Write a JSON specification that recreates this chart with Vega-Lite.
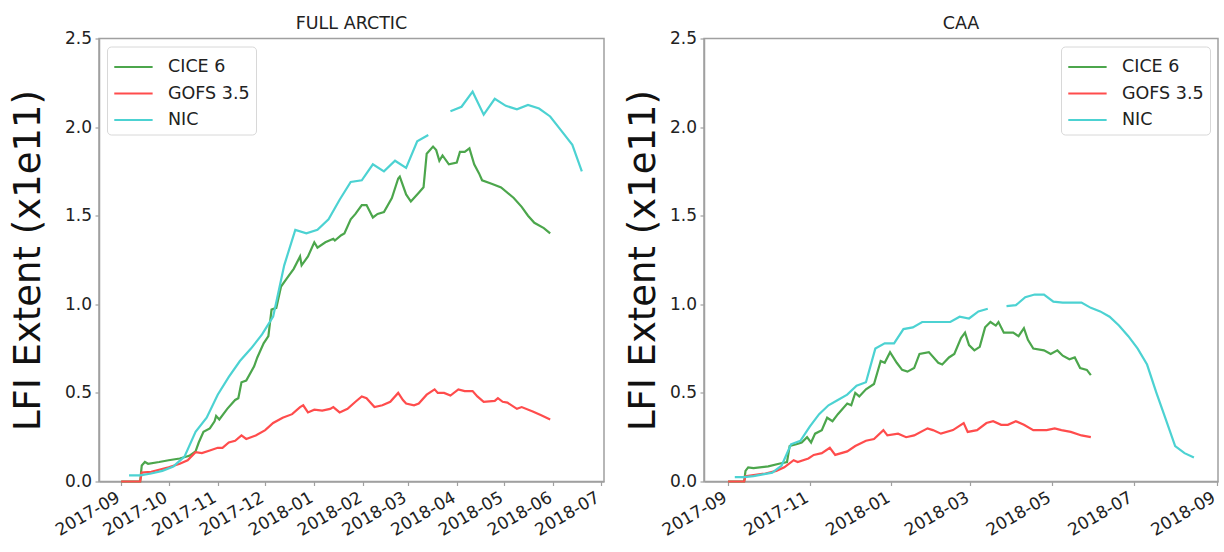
{
"$schema": "https://vega.github.io/schema/vega-lite/v6.json",
"padding": {"left": 9, "top": 13.5, "right": 2, "bottom": 0},
"background": "white",
"config": {
  "font": "DejaVu Sans",
  "view": {"stroke": "#a0a0a0", "strokeWidth": 1.5},
  "axis": {"grid": false, "domainColor": "#a0a0a0", "domainWidth": 1.5, "tickColor": "#a0a0a0", "tickSize": 4, "tickWidth": 1.2, "labelPadding": 3.5, "labelFont": "DejaVu Sans", "labelFontSize": 17, "labelColor": "#222", "labelOverlap": false, "titleFont": "DejaVu Sans", "titleColor": "#111", "titleFontWeight": "normal"},
  "title": {"font": "DejaVu Sans", "fontSize": 17.5, "fontWeight": "normal", "color": "#222", "offset": -3, "frame": "group"},
  "legend": {"title": null, "offset": 8, "labelFont": "DejaVu Sans", "labelFontSize": 17.5, "labelColor": "#222", "symbolType": "M-1,0H1.9", "symbolSize": 700, "symbolStrokeWidth": 2, "strokeColor": "#d8d8d8", "fillColor": "white", "padding": 6, "cornerRadius": 4, "rowPadding": 3.5, "labelOffset": 26},
  "concat": {"spacing": 18}
},
"datasets": {
"arctic": [
{"series":"CICE 6","date":"2017-09-01","value":0},
{"series":"CICE 6","date":"2017-09-13","value":0},
{"series":"CICE 6","date":"2017-09-14","value":0.09},
{"series":"CICE 6","date":"2017-09-16","value":0.11},
{"series":"CICE 6","date":"2017-09-18","value":0.10},
{"series":"CICE 6","date":"2017-09-25","value":0.11},
{"series":"CICE 6","date":"2017-10-01","value":0.12},
{"series":"CICE 6","date":"2017-10-08","value":0.13},
{"series":"CICE 6","date":"2017-10-14","value":0.145},
{"series":"CICE 6","date":"2017-10-18","value":0.17},
{"series":"CICE 6","date":"2017-10-20","value":0.22},
{"series":"CICE 6","date":"2017-10-23","value":0.28},
{"series":"CICE 6","date":"2017-10-27","value":0.30},
{"series":"CICE 6","date":"2017-10-30","value":0.34},
{"series":"CICE 6","date":"2017-10-31","value":0.37},
{"series":"CICE 6","date":"2017-11-02","value":0.35},
{"series":"CICE 6","date":"2017-11-07","value":0.41},
{"series":"CICE 6","date":"2017-11-12","value":0.46},
{"series":"CICE 6","date":"2017-11-14","value":0.47},
{"series":"CICE 6","date":"2017-11-16","value":0.56},
{"series":"CICE 6","date":"2017-11-19","value":0.57},
{"series":"CICE 6","date":"2017-11-24","value":0.65},
{"series":"CICE 6","date":"2017-11-26","value":0.70},
{"series":"CICE 6","date":"2017-11-30","value":0.78},
{"series":"CICE 6","date":"2017-12-03","value":0.82},
{"series":"CICE 6","date":"2017-12-05","value":0.97},
{"series":"CICE 6","date":"2017-12-08","value":0.98},
{"series":"CICE 6","date":"2017-12-11","value":1.10},
{"series":"CICE 6","date":"2017-12-15","value":1.15},
{"series":"CICE 6","date":"2017-12-19","value":1.20},
{"series":"CICE 6","date":"2017-12-23","value":1.27},
{"series":"CICE 6","date":"2017-12-24","value":1.22},
{"series":"CICE 6","date":"2017-12-28","value":1.27},
{"series":"CICE 6","date":"2018-01-01","value":1.35},
{"series":"CICE 6","date":"2018-01-03","value":1.32},
{"series":"CICE 6","date":"2018-01-08","value":1.35},
{"series":"CICE 6","date":"2018-01-13","value":1.37},
{"series":"CICE 6","date":"2018-01-14","value":1.36},
{"series":"CICE 6","date":"2018-01-18","value":1.39},
{"series":"CICE 6","date":"2018-01-20","value":1.40},
{"series":"CICE 6","date":"2018-01-24","value":1.48},
{"series":"CICE 6","date":"2018-01-27","value":1.51},
{"series":"CICE 6","date":"2018-01-31","value":1.56},
{"series":"CICE 6","date":"2018-02-03","value":1.56},
{"series":"CICE 6","date":"2018-02-07","value":1.49},
{"series":"CICE 6","date":"2018-02-10","value":1.51},
{"series":"CICE 6","date":"2018-02-14","value":1.52},
{"series":"CICE 6","date":"2018-02-19","value":1.60},
{"series":"CICE 6","date":"2018-02-23","value":1.71},
{"series":"CICE 6","date":"2018-02-24","value":1.72},
{"series":"CICE 6","date":"2018-02-28","value":1.62},
{"series":"CICE 6","date":"2018-03-03","value":1.58},
{"series":"CICE 6","date":"2018-03-08","value":1.63},
{"series":"CICE 6","date":"2018-03-11","value":1.66},
{"series":"CICE 6","date":"2018-03-13","value":1.85},
{"series":"CICE 6","date":"2018-03-17","value":1.89},
{"series":"CICE 6","date":"2018-03-19","value":1.87},
{"series":"CICE 6","date":"2018-03-21","value":1.81},
{"series":"CICE 6","date":"2018-03-23","value":1.84},
{"series":"CICE 6","date":"2018-03-27","value":1.79},
{"series":"CICE 6","date":"2018-04-01","value":1.80},
{"series":"CICE 6","date":"2018-04-03","value":1.86},
{"series":"CICE 6","date":"2018-04-06","value":1.86},
{"series":"CICE 6","date":"2018-04-09","value":1.88},
{"series":"CICE 6","date":"2018-04-12","value":1.79},
{"series":"CICE 6","date":"2018-04-15","value":1.74},
{"series":"CICE 6","date":"2018-04-17","value":1.70},
{"series":"CICE 6","date":"2018-04-23","value":1.68},
{"series":"CICE 6","date":"2018-04-29","value":1.66},
{"series":"CICE 6","date":"2018-05-07","value":1.60},
{"series":"CICE 6","date":"2018-05-12","value":1.55},
{"series":"CICE 6","date":"2018-05-16","value":1.50},
{"series":"CICE 6","date":"2018-05-20","value":1.46},
{"series":"CICE 6","date":"2018-05-26","value":1.43},
{"series":"CICE 6","date":"2018-05-30","value":1.40},
{"series":"GOFS 3.5","date":"2017-09-01","value":0},
{"series":"GOFS 3.5","date":"2017-09-13","value":0},
{"series":"GOFS 3.5","date":"2017-09-14","value":0.05},
{"series":"GOFS 3.5","date":"2017-09-20","value":0.055},
{"series":"GOFS 3.5","date":"2017-10-01","value":0.08},
{"series":"GOFS 3.5","date":"2017-10-08","value":0.10},
{"series":"GOFS 3.5","date":"2017-10-13","value":0.12},
{"series":"GOFS 3.5","date":"2017-10-18","value":0.165},
{"series":"GOFS 3.5","date":"2017-10-22","value":0.16},
{"series":"GOFS 3.5","date":"2017-10-27","value":0.175},
{"series":"GOFS 3.5","date":"2017-11-01","value":0.19},
{"series":"GOFS 3.5","date":"2017-11-04","value":0.19},
{"series":"GOFS 3.5","date":"2017-11-08","value":0.22},
{"series":"GOFS 3.5","date":"2017-11-12","value":0.23},
{"series":"GOFS 3.5","date":"2017-11-16","value":0.26},
{"series":"GOFS 3.5","date":"2017-11-19","value":0.24},
{"series":"GOFS 3.5","date":"2017-11-25","value":0.26},
{"series":"GOFS 3.5","date":"2017-12-01","value":0.29},
{"series":"GOFS 3.5","date":"2017-12-06","value":0.33},
{"series":"GOFS 3.5","date":"2017-12-12","value":0.36},
{"series":"GOFS 3.5","date":"2017-12-18","value":0.38},
{"series":"GOFS 3.5","date":"2017-12-23","value":0.42},
{"series":"GOFS 3.5","date":"2017-12-25","value":0.43},
{"series":"GOFS 3.5","date":"2017-12-28","value":0.39},
{"series":"GOFS 3.5","date":"2018-01-01","value":0.405},
{"series":"GOFS 3.5","date":"2018-01-06","value":0.40},
{"series":"GOFS 3.5","date":"2018-01-11","value":0.41},
{"series":"GOFS 3.5","date":"2018-01-13","value":0.42},
{"series":"GOFS 3.5","date":"2018-01-17","value":0.39},
{"series":"GOFS 3.5","date":"2018-01-22","value":0.41},
{"series":"GOFS 3.5","date":"2018-01-27","value":0.45},
{"series":"GOFS 3.5","date":"2018-01-31","value":0.48},
{"series":"GOFS 3.5","date":"2018-02-03","value":0.47},
{"series":"GOFS 3.5","date":"2018-02-08","value":0.42},
{"series":"GOFS 3.5","date":"2018-02-13","value":0.43},
{"series":"GOFS 3.5","date":"2018-02-18","value":0.45},
{"series":"GOFS 3.5","date":"2018-02-23","value":0.50},
{"series":"GOFS 3.5","date":"2018-02-26","value":0.46},
{"series":"GOFS 3.5","date":"2018-02-28","value":0.44},
{"series":"GOFS 3.5","date":"2018-03-05","value":0.43},
{"series":"GOFS 3.5","date":"2018-03-08","value":0.44},
{"series":"GOFS 3.5","date":"2018-03-13","value":0.49},
{"series":"GOFS 3.5","date":"2018-03-18","value":0.52},
{"series":"GOFS 3.5","date":"2018-03-20","value":0.50},
{"series":"GOFS 3.5","date":"2018-03-24","value":0.50},
{"series":"GOFS 3.5","date":"2018-03-28","value":0.485},
{"series":"GOFS 3.5","date":"2018-04-02","value":0.52},
{"series":"GOFS 3.5","date":"2018-04-06","value":0.51},
{"series":"GOFS 3.5","date":"2018-04-11","value":0.51},
{"series":"GOFS 3.5","date":"2018-04-14","value":0.48},
{"series":"GOFS 3.5","date":"2018-04-18","value":0.45},
{"series":"GOFS 3.5","date":"2018-04-25","value":0.455},
{"series":"GOFS 3.5","date":"2018-04-27","value":0.47},
{"series":"GOFS 3.5","date":"2018-04-30","value":0.45},
{"series":"GOFS 3.5","date":"2018-05-03","value":0.445},
{"series":"GOFS 3.5","date":"2018-05-09","value":0.41},
{"series":"GOFS 3.5","date":"2018-05-12","value":0.42},
{"series":"GOFS 3.5","date":"2018-05-19","value":0.395},
{"series":"GOFS 3.5","date":"2018-05-24","value":0.375},
{"series":"GOFS 3.5","date":"2018-05-30","value":0.35},
{"series":"NIC","date":"2017-09-06","value":0.035},
{"series":"NIC","date":"2017-09-13","value":0.035},
{"series":"NIC","date":"2017-09-20","value":0.045},
{"series":"NIC","date":"2017-09-27","value":0.06},
{"series":"NIC","date":"2017-10-04","value":0.085},
{"series":"NIC","date":"2017-10-11","value":0.14},
{"series":"NIC","date":"2017-10-18","value":0.28},
{"series":"NIC","date":"2017-10-25","value":0.36},
{"series":"NIC","date":"2017-11-01","value":0.49},
{"series":"NIC","date":"2017-11-08","value":0.59},
{"series":"NIC","date":"2017-11-15","value":0.68},
{"series":"NIC","date":"2017-11-22","value":0.75},
{"series":"NIC","date":"2017-11-29","value":0.83},
{"series":"NIC","date":"2017-12-06","value":0.93},
{"series":"NIC","date":"2017-12-13","value":1.22},
{"series":"NIC","date":"2017-12-20","value":1.42},
{"series":"NIC","date":"2017-12-27","value":1.40},
{"series":"NIC","date":"2018-01-03","value":1.42},
{"series":"NIC","date":"2018-01-10","value":1.48},
{"series":"NIC","date":"2018-01-17","value":1.59},
{"series":"NIC","date":"2018-01-24","value":1.69},
{"series":"NIC","date":"2018-01-31","value":1.70},
{"series":"NIC","date":"2018-02-07","value":1.79},
{"series":"NIC","date":"2018-02-14","value":1.75},
{"series":"NIC","date":"2018-02-21","value":1.81},
{"series":"NIC","date":"2018-02-28","value":1.77},
{"series":"NIC","date":"2018-03-07","value":1.92},
{"series":"NIC","date":"2018-03-14","value":1.955},
{"series":"NIC","date":"2018-03-21","value":null},
{"series":"NIC","date":"2018-03-28","value":2.09},
{"series":"NIC","date":"2018-04-04","value":2.115},
{"series":"NIC","date":"2018-04-11","value":2.20},
{"series":"NIC","date":"2018-04-18","value":2.07},
{"series":"NIC","date":"2018-04-25","value":2.16},
{"series":"NIC","date":"2018-05-02","value":2.12},
{"series":"NIC","date":"2018-05-09","value":2.10},
{"series":"NIC","date":"2018-05-16","value":2.125},
{"series":"NIC","date":"2018-05-23","value":2.105},
{"series":"NIC","date":"2018-05-30","value":2.06},
{"series":"NIC","date":"2018-06-06","value":1.98},
{"series":"NIC","date":"2018-06-13","value":1.90},
{"series":"NIC","date":"2018-06-19","value":1.75}
],
"caa": [
{"series":"CICE 6","date":"2017-09-01","value":0},
{"series":"CICE 6","date":"2017-09-13","value":0},
{"series":"CICE 6","date":"2017-09-14","value":0.06},
{"series":"CICE 6","date":"2017-09-16","value":0.08},
{"series":"CICE 6","date":"2017-09-20","value":0.075},
{"series":"CICE 6","date":"2017-10-01","value":0.085},
{"series":"CICE 6","date":"2017-10-09","value":0.10},
{"series":"CICE 6","date":"2017-10-15","value":0.11},
{"series":"CICE 6","date":"2017-10-17","value":0.20},
{"series":"CICE 6","date":"2017-10-22","value":0.21},
{"series":"CICE 6","date":"2017-10-26","value":0.22},
{"series":"CICE 6","date":"2017-10-30","value":0.25},
{"series":"CICE 6","date":"2017-11-02","value":0.22},
{"series":"CICE 6","date":"2017-11-05","value":0.27},
{"series":"CICE 6","date":"2017-11-10","value":0.29},
{"series":"CICE 6","date":"2017-11-14","value":0.36},
{"series":"CICE 6","date":"2017-11-18","value":0.34},
{"series":"CICE 6","date":"2017-11-22","value":0.38},
{"series":"CICE 6","date":"2017-11-29","value":0.44},
{"series":"CICE 6","date":"2017-12-02","value":0.43},
{"series":"CICE 6","date":"2017-12-05","value":0.50},
{"series":"CICE 6","date":"2017-12-08","value":0.48},
{"series":"CICE 6","date":"2017-12-13","value":0.52},
{"series":"CICE 6","date":"2017-12-19","value":0.55},
{"series":"CICE 6","date":"2017-12-24","value":0.68},
{"series":"CICE 6","date":"2017-12-27","value":0.67},
{"series":"CICE 6","date":"2017-12-31","value":0.73},
{"series":"CICE 6","date":"2018-01-05","value":0.67},
{"series":"CICE 6","date":"2018-01-09","value":0.63},
{"series":"CICE 6","date":"2018-01-13","value":0.62},
{"series":"CICE 6","date":"2018-01-18","value":0.64},
{"series":"CICE 6","date":"2018-01-22","value":0.72},
{"series":"CICE 6","date":"2018-01-29","value":0.73},
{"series":"CICE 6","date":"2018-02-05","value":0.67},
{"series":"CICE 6","date":"2018-02-08","value":0.66},
{"series":"CICE 6","date":"2018-02-13","value":0.70},
{"series":"CICE 6","date":"2018-02-17","value":0.72},
{"series":"CICE 6","date":"2018-02-22","value":0.81},
{"series":"CICE 6","date":"2018-02-25","value":0.84},
{"series":"CICE 6","date":"2018-02-28","value":0.77},
{"series":"CICE 6","date":"2018-03-04","value":0.74},
{"series":"CICE 6","date":"2018-03-08","value":0.76},
{"series":"CICE 6","date":"2018-03-12","value":0.87},
{"series":"CICE 6","date":"2018-03-16","value":0.90},
{"series":"CICE 6","date":"2018-03-20","value":0.88},
{"series":"CICE 6","date":"2018-03-22","value":0.90},
{"series":"CICE 6","date":"2018-03-26","value":0.84},
{"series":"CICE 6","date":"2018-04-02","value":0.84},
{"series":"CICE 6","date":"2018-04-06","value":0.82},
{"series":"CICE 6","date":"2018-04-10","value":0.865},
{"series":"CICE 6","date":"2018-04-13","value":0.80},
{"series":"CICE 6","date":"2018-04-17","value":0.75},
{"series":"CICE 6","date":"2018-04-25","value":0.74},
{"series":"CICE 6","date":"2018-04-30","value":0.72},
{"series":"CICE 6","date":"2018-05-05","value":0.74},
{"series":"CICE 6","date":"2018-05-09","value":0.71},
{"series":"CICE 6","date":"2018-05-14","value":0.69},
{"series":"CICE 6","date":"2018-05-18","value":0.70},
{"series":"CICE 6","date":"2018-05-22","value":0.64},
{"series":"CICE 6","date":"2018-05-27","value":0.63},
{"series":"CICE 6","date":"2018-05-30","value":0.60},
{"series":"GOFS 3.5","date":"2017-09-01","value":0},
{"series":"GOFS 3.5","date":"2017-09-13","value":0},
{"series":"GOFS 3.5","date":"2017-09-14","value":0.03},
{"series":"GOFS 3.5","date":"2017-09-29","value":0.045},
{"series":"GOFS 3.5","date":"2017-10-07","value":0.06},
{"series":"GOFS 3.5","date":"2017-10-13","value":0.08},
{"series":"GOFS 3.5","date":"2017-10-20","value":0.12},
{"series":"GOFS 3.5","date":"2017-10-23","value":0.11},
{"series":"GOFS 3.5","date":"2017-10-31","value":0.13},
{"series":"GOFS 3.5","date":"2017-11-04","value":0.15},
{"series":"GOFS 3.5","date":"2017-11-10","value":0.16},
{"series":"GOFS 3.5","date":"2017-11-16","value":0.19},
{"series":"GOFS 3.5","date":"2017-11-20","value":0.15},
{"series":"GOFS 3.5","date":"2017-11-29","value":0.17},
{"series":"GOFS 3.5","date":"2017-12-05","value":0.20},
{"series":"GOFS 3.5","date":"2017-12-13","value":0.23},
{"series":"GOFS 3.5","date":"2017-12-19","value":0.24},
{"series":"GOFS 3.5","date":"2017-12-26","value":0.29},
{"series":"GOFS 3.5","date":"2017-12-29","value":0.26},
{"series":"GOFS 3.5","date":"2018-01-06","value":0.27},
{"series":"GOFS 3.5","date":"2018-01-12","value":0.25},
{"series":"GOFS 3.5","date":"2018-01-18","value":0.26},
{"series":"GOFS 3.5","date":"2018-01-28","value":0.30},
{"series":"GOFS 3.5","date":"2018-02-01","value":0.29},
{"series":"GOFS 3.5","date":"2018-02-07","value":0.27},
{"series":"GOFS 3.5","date":"2018-02-16","value":0.29},
{"series":"GOFS 3.5","date":"2018-02-24","value":0.33},
{"series":"GOFS 3.5","date":"2018-02-27","value":0.28},
{"series":"GOFS 3.5","date":"2018-03-06","value":0.29},
{"series":"GOFS 3.5","date":"2018-03-13","value":0.33},
{"series":"GOFS 3.5","date":"2018-03-18","value":0.34},
{"series":"GOFS 3.5","date":"2018-03-24","value":0.32},
{"series":"GOFS 3.5","date":"2018-03-29","value":0.32},
{"series":"GOFS 3.5","date":"2018-04-04","value":0.34},
{"series":"GOFS 3.5","date":"2018-04-10","value":0.32},
{"series":"GOFS 3.5","date":"2018-04-17","value":0.29},
{"series":"GOFS 3.5","date":"2018-04-27","value":0.29},
{"series":"GOFS 3.5","date":"2018-05-03","value":0.30},
{"series":"GOFS 3.5","date":"2018-05-08","value":0.29},
{"series":"GOFS 3.5","date":"2018-05-15","value":0.28},
{"series":"GOFS 3.5","date":"2018-05-23","value":0.26},
{"series":"GOFS 3.5","date":"2018-05-30","value":0.25},
{"series":"NIC","date":"2017-09-06","value":0.025},
{"series":"NIC","date":"2017-09-13","value":0.025},
{"series":"NIC","date":"2017-09-20","value":0.03},
{"series":"NIC","date":"2017-09-27","value":0.04},
{"series":"NIC","date":"2017-10-04","value":0.05},
{"series":"NIC","date":"2017-10-11","value":0.09},
{"series":"NIC","date":"2017-10-18","value":0.21},
{"series":"NIC","date":"2017-10-25","value":0.23},
{"series":"NIC","date":"2017-11-01","value":0.31},
{"series":"NIC","date":"2017-11-08","value":0.38},
{"series":"NIC","date":"2017-11-15","value":0.43},
{"series":"NIC","date":"2017-11-22","value":0.46},
{"series":"NIC","date":"2017-11-29","value":0.49},
{"series":"NIC","date":"2017-12-06","value":0.54},
{"series":"NIC","date":"2017-12-13","value":0.56},
{"series":"NIC","date":"2017-12-20","value":0.75},
{"series":"NIC","date":"2017-12-27","value":0.78},
{"series":"NIC","date":"2018-01-03","value":0.78},
{"series":"NIC","date":"2018-01-10","value":0.86},
{"series":"NIC","date":"2018-01-17","value":0.87},
{"series":"NIC","date":"2018-01-24","value":0.90},
{"series":"NIC","date":"2018-01-31","value":0.90},
{"series":"NIC","date":"2018-02-07","value":0.90},
{"series":"NIC","date":"2018-02-14","value":0.90},
{"series":"NIC","date":"2018-02-21","value":0.93},
{"series":"NIC","date":"2018-02-28","value":0.92},
{"series":"NIC","date":"2018-03-07","value":0.96},
{"series":"NIC","date":"2018-03-14","value":0.975},
{"series":"NIC","date":"2018-03-21","value":null},
{"series":"NIC","date":"2018-03-28","value":0.99},
{"series":"NIC","date":"2018-04-04","value":0.995},
{"series":"NIC","date":"2018-04-11","value":1.04},
{"series":"NIC","date":"2018-04-18","value":1.055},
{"series":"NIC","date":"2018-04-25","value":1.055},
{"series":"NIC","date":"2018-05-02","value":1.015},
{"series":"NIC","date":"2018-05-09","value":1.01},
{"series":"NIC","date":"2018-05-16","value":1.01},
{"series":"NIC","date":"2018-05-23","value":1.01},
{"series":"NIC","date":"2018-05-30","value":0.98},
{"series":"NIC","date":"2018-06-06","value":0.96},
{"series":"NIC","date":"2018-06-13","value":0.93},
{"series":"NIC","date":"2018-06-20","value":0.88},
{"series":"NIC","date":"2018-06-27","value":0.82},
{"series":"NIC","date":"2018-07-04","value":0.75},
{"series":"NIC","date":"2018-07-11","value":0.66},
{"series":"NIC","date":"2018-07-18","value":0.50},
{"series":"NIC","date":"2018-07-25","value":0.35},
{"series":"NIC","date":"2018-08-01","value":0.20},
{"series":"NIC","date":"2018-08-08","value":0.16},
{"series":"NIC","date":"2018-08-15","value":0.135}
]
},
"resolve": {"legend": {"color": "independent"}},
"hconcat": [
{
  "title": "FULL ARCTIC",
  "width": 505, "height": 443,
  "data": {"name": "arctic"},
  "mark": {"type": "line", "strokeWidth": 2.2, "invalid": "break-paths-show-domains"},
  "encoding": {
    "x": {"field": "date", "type": "temporal",
      "scale": {"type": "utc", "domain": [{"year": 2017, "month": 8, "date": 18, "utc": true}, {"year": 2018, "month": 7, "date": 3, "utc": true}]},
      "axis": {"title": null, "format": "%Y-%m", "labelAngle": -30, "labelAlign": "right", "labelBaseline": "top", "labelOffset": -7,
        "values": [{"year":2017,"month":9,"date":1,"utc":true},{"year":2017,"month":10,"date":1,"utc":true},{"year":2017,"month":11,"date":1,"utc":true},{"year":2017,"month":12,"date":1,"utc":true},{"year":2018,"month":1,"date":1,"utc":true},{"year":2018,"month":2,"date":1,"utc":true},{"year":2018,"month":3,"date":1,"utc":true},{"year":2018,"month":4,"date":1,"utc":true},{"year":2018,"month":5,"date":1,"utc":true},{"year":2018,"month":6,"date":1,"utc":true},{"year":2018,"month":7,"date":1,"utc":true}]}},
    "y": {"field": "value", "type": "quantitative",
      "scale": {"domain": [0, 2.5], "nice": false},
      "axis": {"title": "LFI Extent (x1e11)", "titleFontSize": 37, "titlePadding": 16.5, "values": [0, 0.5, 1, 1.5, 2, 2.5], "format": ".1f"}},
    "color": {"field": "series", "type": "nominal",
      "scale": {"domain": ["CICE 6", "GOFS 3.5", "NIC"], "range": ["#4ca64c", "#ff4c4c", "#4cd2d2"]},
      "legend": {"orient": "top-left"}}
  }
},
{
  "title": "CAA",
  "width": 514, "height": 443,
  "data": {"name": "caa"},
  "mark": {"type": "line", "strokeWidth": 2.2, "invalid": "break-paths-show-domains"},
  "encoding": {
    "x": {"field": "date", "type": "temporal",
      "scale": {"type": "utc", "domain": [{"year": 2017, "month": 8, "date": 14, "utc": true}, {"year": 2018, "month": 9, "date": 2, "utc": true}]},
      "axis": {"title": null, "format": "%Y-%m", "labelAngle": -30, "labelAlign": "right", "labelBaseline": "top", "labelOffset": -7,
        "values": [{"year":2017,"month":9,"date":1,"utc":true},{"year":2017,"month":11,"date":1,"utc":true},{"year":2018,"month":1,"date":1,"utc":true},{"year":2018,"month":3,"date":1,"utc":true},{"year":2018,"month":5,"date":1,"utc":true},{"year":2018,"month":7,"date":1,"utc":true},{"year":2018,"month":9,"date":1,"utc":true}]}},
    "y": {"field": "value", "type": "quantitative",
      "scale": {"domain": [0, 2.5], "nice": false},
      "axis": {"title": "LFI Extent (x1e11)", "titleFontSize": 37, "titlePadding": 7, "values": [0, 0.5, 1, 1.5, 2, 2.5], "format": ".1f"}},
    "color": {"field": "series", "type": "nominal",
      "scale": {"domain": ["CICE 6", "GOFS 3.5", "NIC"], "range": ["#4ca64c", "#ff4c4c", "#4cd2d2"]},
      "legend": {"orient": "top-right"}}
  }
}
]
}
